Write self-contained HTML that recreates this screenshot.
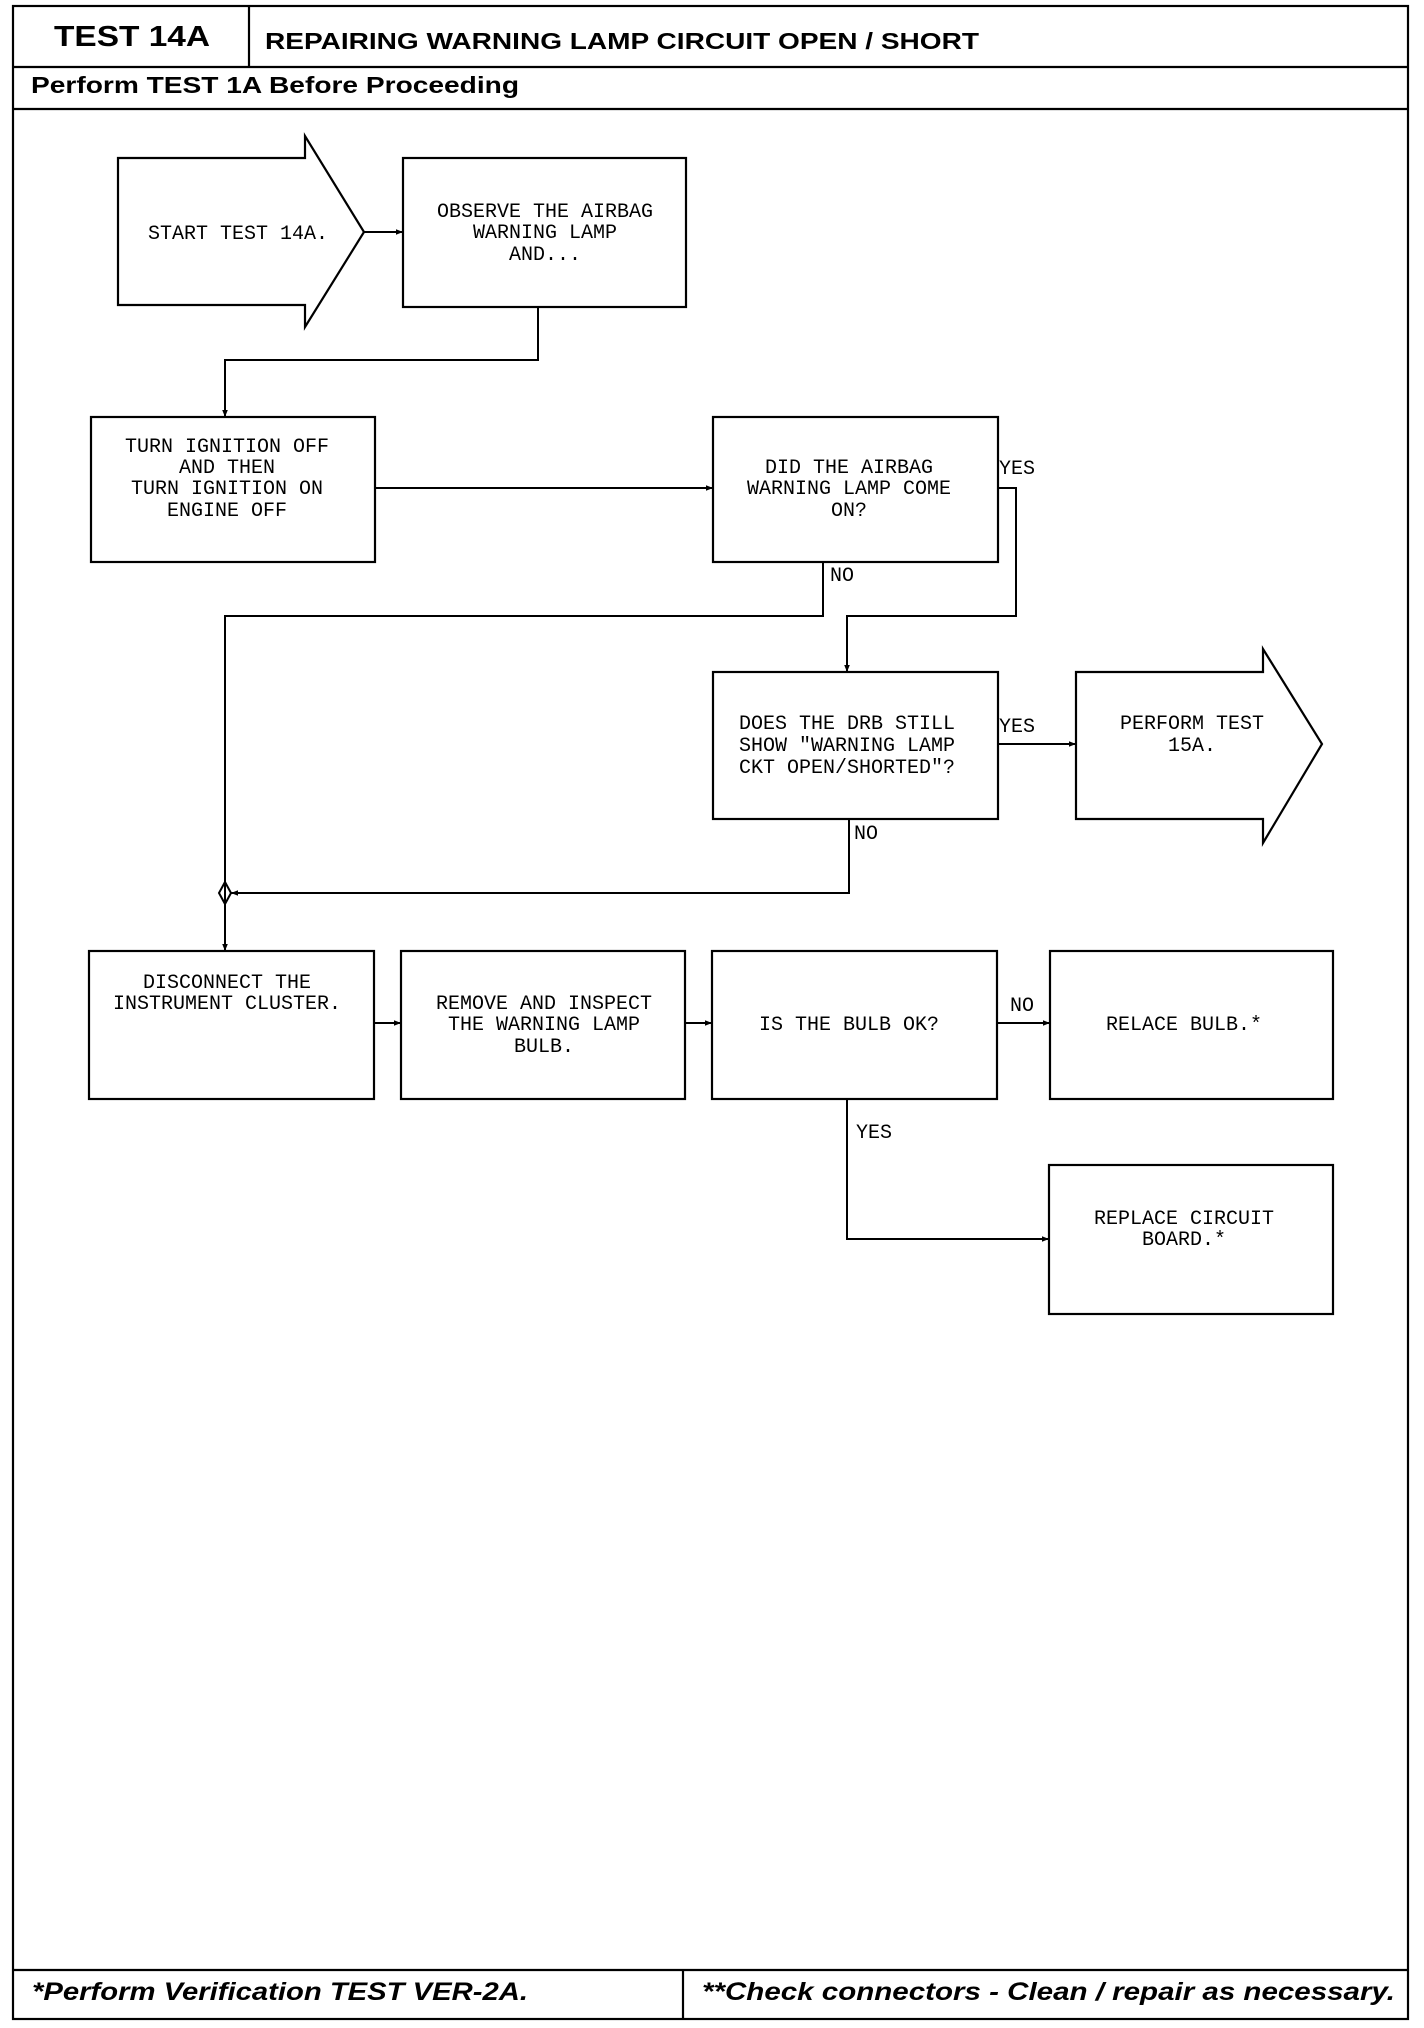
<!DOCTYPE html>
<html><head><meta charset="utf-8"><style>html,body{margin:0;padding:0;background:#fff}svg{display:block}</style></head>
<body>
<svg width="1424" height="2028" viewBox="0 0 1424 2028" xmlns="http://www.w3.org/2000/svg">
<defs>
<marker id="a" viewBox="0 0 10 10" refX="10" refY="5" markerWidth="7" markerHeight="7" orient="auto" markerUnits="userSpaceOnUse"><path d="M0,1 L10,5 L0,9 z" fill="#000"/></marker>
</defs>
<g fill="none" stroke="#000" stroke-width="2.2">
<rect x="13" y="6" width="1395" height="2013"/>
<line x1="13" y1="67" x2="1408" y2="67"/>
<line x1="249" y1="6" x2="249" y2="67"/>
<line x1="13" y1="109" x2="1408" y2="109"/>
<line x1="13" y1="1970" x2="1408" y2="1970"/>
<line x1="683" y1="1970" x2="683" y2="2019"/>
<!-- start arrow -->
<path d="M305,158 L305,136 L364,232 L305,327 L305,305 L118,305 L118,158 Z"/>
<rect x="403" y="158" width="283" height="149"/>
<rect x="91" y="417" width="284" height="145"/>
<rect x="713" y="417" width="285" height="145"/>
<rect x="713" y="672" width="285" height="147"/>
<path d="M1263,672 L1263,649 L1322,744 L1263,843 L1263,819 L1076,819 L1076,672 Z"/>
<rect x="89" y="951" width="285" height="148"/>
<rect x="401" y="951" width="284" height="148"/>
<rect x="712" y="951" width="285" height="148"/>
<rect x="1050" y="951" width="283" height="148"/>
<rect x="1049" y="1165" width="284" height="149"/>
</g>
<g fill="none" stroke="#000" stroke-width="2">
<line x1="364" y1="232" x2="403" y2="232" marker-end="url(#a)"/>
<polyline points="538,307 538,360 225,360 225,417" marker-end="url(#a)"/>
<line x1="375" y1="488" x2="713" y2="488" marker-end="url(#a)"/>
<polyline points="998,488 1016,488 1016,616 847,616 847,672" marker-end="url(#a)"/>
<polyline points="823,562 823,616 225,616 225,951" marker-end="url(#a)"/>
<line x1="998" y1="744" x2="1076" y2="744" marker-end="url(#a)"/>
<polyline points="849,819 849,893 231,893" marker-end="url(#a)"/>
<path d="M225,882 L231,893 L225,904 L219,893 Z"/>
<line x1="374" y1="1023" x2="401" y2="1023" marker-end="url(#a)"/>
<line x1="685" y1="1023" x2="712" y2="1023" marker-end="url(#a)"/>
<line x1="997" y1="1023" x2="1050" y2="1023" marker-end="url(#a)"/>
<polyline points="847,1099 847,1239 1049,1239" marker-end="url(#a)"/>
</g>
<g font-family="Liberation Sans, sans-serif" font-weight="bold" fill="#000">
<text x="54" y="46" font-size="29" textLength="156" lengthAdjust="spacingAndGlyphs">TEST 14A</text>
<text x="265" y="49" font-size="23" textLength="714" lengthAdjust="spacingAndGlyphs">REPAIRING WARNING LAMP CIRCUIT OPEN / SHORT</text>
<text x="31" y="93" font-size="23" textLength="488" lengthAdjust="spacingAndGlyphs">Perform TEST 1A Before Proceeding</text>
<text x="32" y="2000" font-size="25" font-style="italic" textLength="496" lengthAdjust="spacingAndGlyphs">*Perform Verification TEST VER-2A.</text>
<text x="702" y="2000" font-size="25" font-style="italic" textLength="693" lengthAdjust="spacingAndGlyphs">**Check connectors - Clean / repair as necessary.</text>
</g>
<g font-family="Liberation Mono, monospace" font-size="20" fill="#000" text-anchor="middle">
<text x="238" y="239">START TEST 14A.</text>
<text x="545" y="217">OBSERVE THE AIRBAG</text>
<text x="545" y="238">WARNING LAMP</text>
<text x="545" y="260">AND...</text>
<text x="227" y="452">TURN IGNITION OFF</text>
<text x="227" y="473">AND THEN</text>
<text x="227" y="494">TURN IGNITION ON</text>
<text x="227" y="516">ENGINE OFF</text>
<text x="849" y="473">DID THE AIRBAG</text>
<text x="849" y="494">WARNING LAMP COME</text>
<text x="849" y="516">ON?</text>
<text x="1192" y="729">PERFORM TEST</text>
<text x="1192" y="751">15A.</text>
<text x="227" y="988">DISCONNECT THE</text>
<text x="227" y="1009">INSTRUMENT CLUSTER.</text>
<text x="544" y="1009">REMOVE AND INSPECT</text>
<text x="544" y="1030">THE WARNING LAMP</text>
<text x="544" y="1052">BULB.</text>
<text x="849" y="1030">IS THE BULB OK?</text>
<text x="1184" y="1030">RELACE BULB.*</text>
<text x="1184" y="1224">REPLACE CIRCUIT</text>
<text x="1184" y="1245">BOARD.*</text>
</g>
<g font-family="Liberation Mono, monospace" font-size="20" fill="#000">
<text x="739" y="729">DOES THE DRB STILL</text>
<text x="739" y="751">SHOW "WARNING LAMP</text>
<text x="739" y="773">CKT OPEN/SHORTED"?</text>
<text x="999" y="474">YES</text>
<text x="830" y="581">NO</text>
<text x="999" y="732">YES</text>
<text x="854" y="839">NO</text>
<text x="1010" y="1011">NO</text>
<text x="856" y="1138">YES</text>
</g>
</svg>
</body></html>
